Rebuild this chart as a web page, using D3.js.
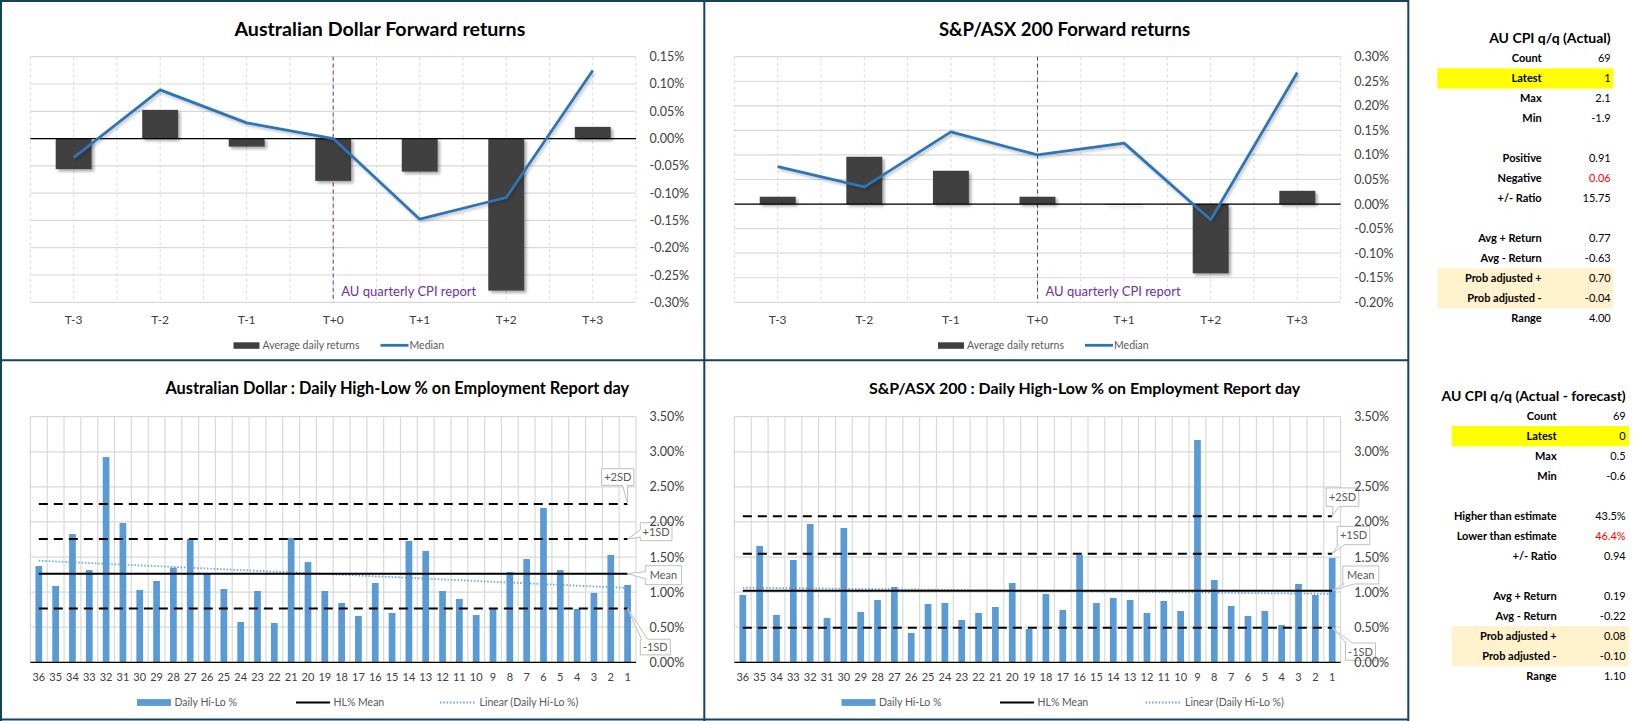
<!DOCTYPE html>
<html><head><meta charset="utf-8">
<script src="https://cdn.jsdelivr.net/npm/d3@7"></script>
<style>
html,body{margin:0;padding:0;background:#fff;}
svg{display:block;font-family:Lato,"Open Sans",sans-serif;}
</style></head><body>
<svg id="c" width="1642" height="721"></svg>
<script>
// ---------- DATA ----------
const fwdCats = ["T-3","T-2","T-1","T+0","T+1","T+2","T+3"];
const audAvg    = [-0.056, 0.0526, -0.0147, -0.0775, -0.0605, -0.2785, 0.0214];
const audMedian = [-0.0348, 0.0892, 0.0288, 0.0, -0.1477, -0.108, 0.1246];
const asxAvg    = [0.0149, 0.0963, 0.0678, 0.0149, -0.001, -0.141, 0.027];
const asxMedian = [0.076, 0.035, 0.147, 0.100, 0.124, -0.032, 0.268];
const audFwdTicks = [0.15, 0.10, 0.05, 0.00, -0.05, -0.10, -0.15, -0.20, -0.25, -0.30];
const asxFwdTicks = [0.30, 0.25, 0.20, 0.15, 0.10, 0.05, 0.00, -0.05, -0.10, -0.15, -0.20];

const hiloCats = ["36","35","34","33","32","31","30","29","28","27","26","25","24","23","22","21","20","19","18","17","16","15","14","13","12","11","10","9","8","7","6","5","4","3","2","1"];
const audHiLo = [1.372,1.088,1.828,1.315,2.925,1.985,1.031,1.159,1.349,1.757,1.268,1.045,0.575,1.016,0.560,1.771,1.429,1.016,0.845,0.660,1.130,0.703,1.729,1.586,1.016,0.902,0.674,0.760,1.287,1.472,2.199,1.315,0.760,0.988,1.529,1.102];
const asxHiLo = [0.959,1.657,0.674,1.458,1.971,0.632,1.914,0.717,0.888,1.073,0.418,0.831,0.845,0.603,0.703,0.788,1.130,0.475,0.974,0.746,1.529,0.845,0.917,0.888,0.703,0.874,0.731,3.168,1.173,0.803,0.660,0.731,0.532,1.116,0.959,1.486];
const hiloTicks = [0, 0.5, 1.0, 1.5, 2.0, 2.5, 3.0, 3.5];
// reference lines: mean, +1SD, +2SD, -1SD ; trend endpoints (first, last)
const audMean = 1.263, audPlus1SD = 1.757, audPlus2SD = 2.255, audMinus1SD = 0.765;
const audTrend = [1.448, 1.059];
const asxMean = 1.021, asxPlus1SD = 1.548, asxPlus2SD = 2.080, asxMinus1SD = 0.494;
const asxTrend = [1.064, 0.974];

const stats1Title = "AU CPI q/q (Actual)";
const stats1Labels = ["Count","Latest","Max","Min","","Positive","Negative","+/- Ratio","","Avg + Return","Avg - Return","Prob adjusted +","Prob adjusted -","Range"];
const stats1Values = ["69","1","2.1","-1.9","","0.91","0.06","15.75","","0.77","-0.63","0.70","-0.04","4.00"];
const stats2Title = "AU CPI q/q (Actual - forecast)";
const stats2Labels = ["Count","Latest","Max","Min","","Higher than estimate","Lower than estimate","+/- Ratio","","Avg + Return","Avg - Return","Prob adjusted +","Prob adjusted -","Range"];
const stats2Values = ["69","0","0.5","-0.6","","43.5%","46.4%","0.94","","0.19","-0.22","0.08","-0.10","1.10"];

// ---------- DRAW ----------
const svg = d3.select("#c");
const defs = svg.append("defs");
defs.append("filter").attr("id","shadow").attr("x","-30%").attr("y","-30%").attr("width","160%").attr("height","160%")
  .append("feDropShadow").attr("dx",2.2).attr("dy",2.2).attr("stdDeviation",1.6)
  .attr("flood-color","#000").attr("flood-opacity",0.35);
defs.append("filter").attr("id","lshadow").attr("x","-10%").attr("y","-10%").attr("width","120%").attr("height","130%")
  .append("feDropShadow").attr("dx",1.5).attr("dy",2).attr("stdDeviation",1.5)
  .attr("flood-color","#000").attr("flood-opacity",0.25);

function fitText(sel, target){
  const w = sel.node().getComputedTextLength();
  if (w > 0) sel.attr("font-size", parseFloat(sel.attr("font-size")) * target / w);
}
const pct = d => d.toFixed(2) + "%";

function title(txt, x0, x1, y, fs){
  const t = svg.append("text").attr("x",(x0+x1)/2).attr("y",y).attr("dy","0.35em")
    .attr("text-anchor","middle").attr("font-weight","bold").attr("font-size",fs).attr("fill","#000").text(txt);
  fitText(t, x1 - x0);
}

function legendText(g, x, y, txt){
  g.append("text").attr("x",x).attr("y",y).attr("dy","0.35em").attr("font-size",10.5).attr("fill","#595959").text(txt);
}

function drawForward(c){
  const g = svg.append("g");
  const x = d3.scaleBand().domain(c.cats).range([c.x0, c.x1]).padding(0);
  const y = d3.scaleLinear().domain([d3.min(c.ticks), d3.max(c.ticks)]).range([c.y1, c.y0]);
  const bw = x.bandwidth();
  // horizontal grid
  g.selectAll(".hg").data(c.ticks).join("line")
    .attr("x1",c.x0).attr("x2",c.x1).attr("y1",d=>y(d)).attr("y2",d=>y(d))
    .attr("stroke","#d9d9d9").attr("stroke-width",1.2);
  // vertical dashed grid at band edges and centers
  const vx = [];
  c.cats.forEach(k => { vx.push(x(k)); vx.push(x(k) + bw/2); });
  vx.push(c.x1);
  g.selectAll(".vg").data(vx).join("line")
    .attr("x1",d=>d).attr("x2",d=>d).attr("y1",c.y0).attr("y2",c.y1)
    .attr("stroke","#d9d9d9").attr("stroke-width",1).attr("stroke-dasharray","3,3");
  // event marker line
  const mx = x(c.marker) + bw/2;
  g.append("line").attr("x1",mx).attr("x2",mx).attr("y1",c.y0).attr("y2",c.y1)
    .attr("stroke","#7030A0").attr("stroke-width",1).attr("stroke-dasharray","4,3");
  g.append("text").attr("x",mx+8).attr("y",291).attr("dy","0.35em").attr("font-size",13)
    .attr("fill","#7030A0").text("AU quarterly CPI report");
  // bars
  const barW = bw * 0.415;
  g.append("g").attr("filter","url(#shadow)").selectAll("rect").data(c.avg).join("rect")
    .attr("x",(d,i)=>x(c.cats[i]) + bw/2 - barW/2)
    .attr("y",d=>y(Math.max(0,d)))
    .attr("width",barW)
    .attr("height",d=>Math.max(0.6, Math.abs(y(d)-y(0))))
    .attr("fill","#404040");
  // zero line
  g.append("line").attr("x1",c.x0).attr("x2",c.x1).attr("y1",y(0)).attr("y2",y(0))
    .attr("stroke","#000").attr("stroke-width",1.3);
  // median line
  const line = d3.line().x((d,i)=>x(c.cats[i]) + bw/2).y(d=>y(d));
  g.append("path").datum(c.median).attr("d",line).attr("fill","none")
    .attr("stroke","#2E75B6").attr("stroke-width",2.8).attr("stroke-linejoin","round")
    .attr("filter","url(#lshadow)");
  // y axis (right)
  const ya = g.append("g").attr("transform",`translate(${c.x1},0)`)
    .call(d3.axisRight(y).tickValues(c.ticks).tickFormat(pct).tickSize(0).tickPadding(13.6));
  ya.select(".domain").remove();
  ya.selectAll("text").attr("font-family","Lato,'Open Sans',sans-serif").attr("font-size",12.5).attr("fill","#404040");
  // x axis
  const xa = g.append("g").attr("transform",`translate(0,${c.y1})`)
    .call(d3.axisBottom(x).tickSize(0).tickPadding(0));
  xa.select(".domain").remove();
  xa.selectAll("text").attr("y",17.7).attr("dy","0.35em")
    .attr("font-family","Lato,'Open Sans',sans-serif").attr("font-size",12).attr("fill","#404040");
  // legend
  const lg = g.append("g");
  lg.append("rect").attr("x",c.leg[0]).attr("y",342.3).attr("width",26).attr("height",6.5).attr("fill","#404040");
  legendText(lg, c.leg[0]+29, 345.3, "Average daily returns");
  lg.append("line").attr("x1",c.leg[1]).attr("x2",c.leg[1]+28).attr("y1",345.3).attr("y2",345.3)
    .attr("stroke","#2E75B6").attr("stroke-width",2.8);
  legendText(lg, c.leg[1]+29, 345.3, "Median");
  title(c.title, c.tx0, c.tx1, 29, 16);
}

function callout(g, txt, px, py, b){
  // b: {x0,x1,y0,y1, side, t0, t1} relative to the point
  const X0 = px+b.x0, X1 = px+b.x1, Y0 = py+b.y0, Y1 = py+b.y1;
  let p;
  if (b.side === "bottom"){
    p = `M${X0},${Y0}H${X1}V${Y1}H${px+b.t1}L${px},${py}L${px+b.t0},${Y1}H${X0}Z`;
  } else if (b.side === "left"){
    p = `M${X0},${Y0}H${X1}V${Y1}H${X0}V${py+b.t1}L${px},${py}L${X0},${py+b.t0}Z`;
  } else {
    p = `M${X0},${Y0}H${px+b.t0}L${px},${py}L${px+b.t1},${Y0}H${X1}V${Y1}H${X0}Z`;
  }
  g.append("path").attr("d",p).attr("fill","#fff").attr("stroke","#bfbfbf").attr("stroke-width",1);
  g.append("text").attr("x",(X0+X1)/2).attr("y",(Y0+Y1)/2).attr("dy","0.35em").attr("text-anchor","middle")
    .attr("font-size",11).attr("fill","#595959").text(txt);
}

function drawHiLo(c){
  const g = svg.append("g");
  const x = d3.scaleBand().domain(c.cats).range([c.x0, c.x1]).padding(0);
  const y = d3.scaleLinear().domain([0, 3.5]).range([c.y1, c.y0]);
  const bw = x.bandwidth();
  g.selectAll(".hg").data(hiloTicks).join("line")
    .attr("x1",c.x0).attr("x2",c.x1).attr("y1",d=>y(d)).attr("y2",d=>y(d))
    .attr("stroke","#d9d9d9").attr("stroke-width",1.2);
  const vx = c.cats.map(k => x(k)).concat([c.x1]);
  g.selectAll(".vg").data(vx).join("line")
    .attr("x1",d=>d).attr("x2",d=>d).attr("y1",c.y0).attr("y2",c.y1)
    .attr("stroke","#d9d9d9").attr("stroke-width",1.2);
  const cx = k => x(k) + bw/2;
  const xFirst = cx(c.cats[0]), xLast = cx(c.cats[c.cats.length-1]);
  // trend
  g.append("line").attr("x1",xFirst).attr("x2",xLast).attr("y1",y(c.trend[0])).attr("y2",y(c.trend[1]))
    .attr("stroke","#6fa8dc").attr("stroke-width",1.8).attr("stroke-dasharray","1.5,1.8");
  // bars
  const barW = bw * 0.4;
  g.selectAll(".bar").data(c.vals).join("rect")
    .attr("x",(d,i)=>cx(c.cats[i]) - barW/2).attr("y",d=>y(d))
    .attr("width",barW).attr("height",d=>y(0)-y(d)).attr("fill","#5B9BD5");
  // base line
  g.append("line").attr("x1",c.x0).attr("x2",c.x1).attr("y1",y(0)).attr("y2",y(0))
    .attr("stroke","#000").attr("stroke-width",1.3);
  // mean
  g.append("line").attr("x1",xFirst).attr("x2",xLast).attr("y1",y(c.mean)).attr("y2",y(c.mean))
    .attr("stroke","#000").attr("stroke-width",2);
  // SD lines
  [c.p2, c.p1, c.m1].forEach(v => {
    g.append("line").attr("x1",xFirst).attr("x2",xLast).attr("y1",y(v)).attr("y2",y(v))
      .attr("stroke","#000").attr("stroke-width",2).attr("stroke-dasharray","9,6");
  });
  // callouts
  callout(g, "+2SD", xLast, y(c.p2), c.co[0]);
  callout(g, "+1SD", xLast, y(c.p1), c.co[1]);
  callout(g, "Mean", xLast, y(c.mean), c.co[2]);
  callout(g, "-1SD", xLast, y(c.m1), c.co[3]);
  // axes
  const ya = g.append("g").attr("transform",`translate(${c.x1},0)`)
    .call(d3.axisRight(y).tickValues(hiloTicks).tickFormat(pct).tickSize(0).tickPadding(13.6));
  ya.select(".domain").remove();
  ya.selectAll("text").attr("font-family","Lato,'Open Sans',sans-serif").attr("font-size",12.5).attr("fill","#404040");
  const xa = g.append("g").attr("transform",`translate(0,${c.y1})`)
    .call(d3.axisBottom(x).tickSize(0).tickPadding(0));
  xa.select(".domain").remove();
  xa.selectAll("text").attr("y",15).attr("dy","0.35em")
    .attr("font-family","Lato,'Open Sans',sans-serif").attr("font-size",11).attr("fill","#404040");
  // legend
  const ly = 702.5;
  g.append("rect").attr("x",c.leg[0]).attr("y",ly-3.4).attr("width",34).attr("height",6.8).attr("fill","#5B9BD5");
  legendText(g, c.leg[0]+37.5, ly, "Daily Hi-Lo %");
  g.append("line").attr("x1",c.leg[1]).attr("x2",c.leg[1]+34).attr("y1",ly).attr("y2",ly).attr("stroke","#000").attr("stroke-width",2);
  legendText(g, c.leg[1]+37.5, ly, "HL% Mean");
  g.append("line").attr("x1",c.leg[2]).attr("x2",c.leg[2]+36).attr("y1",ly).attr("y2",ly)
    .attr("stroke","#6fa8dc").attr("stroke-width",1.8).attr("stroke-dasharray","1.5,1.8");
  legendText(g, c.leg[2]+39.5, ly, "Linear (Daily Hi-Lo %)");
  title(c.title, c.tx0, c.tx1, 388, 15);
}

function drawStats(titleTxt, labels, values, o){
  const g = svg.append("g");
  const rowY = i => o.y0 + i*20;
  // highlights
  labels.forEach((l,i) => {
    let fill = null;
    if (l === "Latest") fill = "#FFFF00";
    if (l.startsWith("Prob adjusted")) fill = "#FFF2CC";
    if (fill) g.append("rect").attr("x",o.hx0).attr("width",o.hx1-o.hx0).attr("y",rowY(i)-10).attr("height",20.3).attr("fill",fill);
  });
  g.append("text").attr("x",o.vx).attr("y",o.ty).attr("dy","0.35em").attr("text-anchor","end")
    .attr("font-weight","bold").attr("font-size",14).attr("fill","#000").text(titleTxt);
  g.selectAll(".lab").data(labels).join("text")
    .attr("x",o.lx).attr("y",(d,i)=>rowY(i)).attr("dy","0.35em").attr("text-anchor","end")
    .attr("font-weight","bold").attr("font-size",11).attr("fill","#000").text(d=>d);
  g.selectAll(".val").data(values).join("text")
    .attr("x",o.vx).attr("y",(d,i)=>rowY(i)).attr("dy","0.35em").attr("text-anchor","end")
    .attr("font-size",11)
    .attr("fill",(d,i)=> (labels[i]==="Negative"||labels[i]==="Lower than estimate") ? "#FF0000" : "#000")
    .text(d=>d);
}

drawForward({x0:30.4, x1:636, y0:56.7, y1:302.3, cats:fwdCats, avg:audAvg, median:audMedian,
  ticks:audFwdTicks, marker:"T+0", title:"Australian Dollar Forward returns", tx0:234.4, tx1:525.4, leg:[233.5, 380.5]});
drawForward({x0:734.4, x1:1340.6, y0:56.7, y1:302.3, cats:fwdCats, avg:asxAvg, median:asxMedian,
  ticks:asxFwdTicks, marker:"T+0", title:"S&P/ASX 200 Forward returns", tx0:938.8, tx1:1190.2, leg:[938, 1085]});

drawHiLo({x0:30.4, x1:636, y0:416.7, y1:662.3, cats:hiloCats, vals:audHiLo,
  mean:audMean, p1:audPlus1SD, p2:audPlus2SD, m1:audMinus1SD, trend:audTrend,
  title:"Australian Dollar : Daily High-Low % on Employment Report day", tx0:165.2, tx1:629.5,
  leg:[137, 296, 440],
  co:[{x0:-26,x1:6.3,y0:-35.4,y1:-18.7,side:"bottom",t0:-5,t1:0},
      {x0:12.7,x1:44.4,y0:-16.3,y1:1.7,side:"left",t0:-9,t1:-2},
      {x0:17.7,x1:54,y0:-8,y1:11,side:"left",t0:-2,t1:5},
      {x0:12.7,x1:42.7,y0:30.6,y1:46.3,side:"top",t0:14,t1:20}]});
drawHiLo({x0:734.4, x1:1340.6, y0:416.7, y1:662.3, cats:hiloCats, vals:asxHiLo,
  mean:asxMean, p1:asxPlus1SD, p2:asxPlus2SD, m1:asxMinus1SD, trend:asxTrend,
  title:"S&P/ASX 200 : Daily High-Low % on Employment Report day", tx0:868.8, tx1:1300.4,
  leg:[841.5, 1000, 1145.5],
  co:[{x0:-6,x1:26.6,y0:-28.4,y1:-10,side:"bottom",t0:1,t1:7},
      {x0:5,x1:37.6,y0:-27.3,y1:-9,side:"bottom",t0:6,t1:12},
      {x0:10.6,x1:46.6,y0:-24.7,y1:-6.7,side:"bottom",t0:12,t1:22},
      {x0:13.3,x1:43.3,y0:15.4,y1:32.7,side:"top",t0:14,t1:20}]});

drawStats(stats1Title, stats1Labels, stats1Values, {y0:58.3, ty:37.7, lx:1541.7, vx:1610.7, hx0:1437.3, hx1:1613.3});
drawStats(stats2Title, stats2Labels, stats2Values, {y0:416, ty:395.7, lx:1556.7, vx:1625.7, hx0:1451.7, hx1:1629});

// panel borders
const bc = "#12455a";
const borders = [[1,0,1,721],[0,1,1408,1],[0,719.5,1408,719.5],[0,360.3,1408,360.3],[704.3,0,704.3,721],[1408.3,0,1408.3,721]];
svg.append("g").selectAll("line").data(borders).join("line")
  .attr("x1",d=>d[0]).attr("y1",d=>d[1]).attr("x2",d=>d[2]).attr("y2",d=>d[3])
  .attr("stroke",bc).attr("stroke-width",2);
</script>
</body></html>
